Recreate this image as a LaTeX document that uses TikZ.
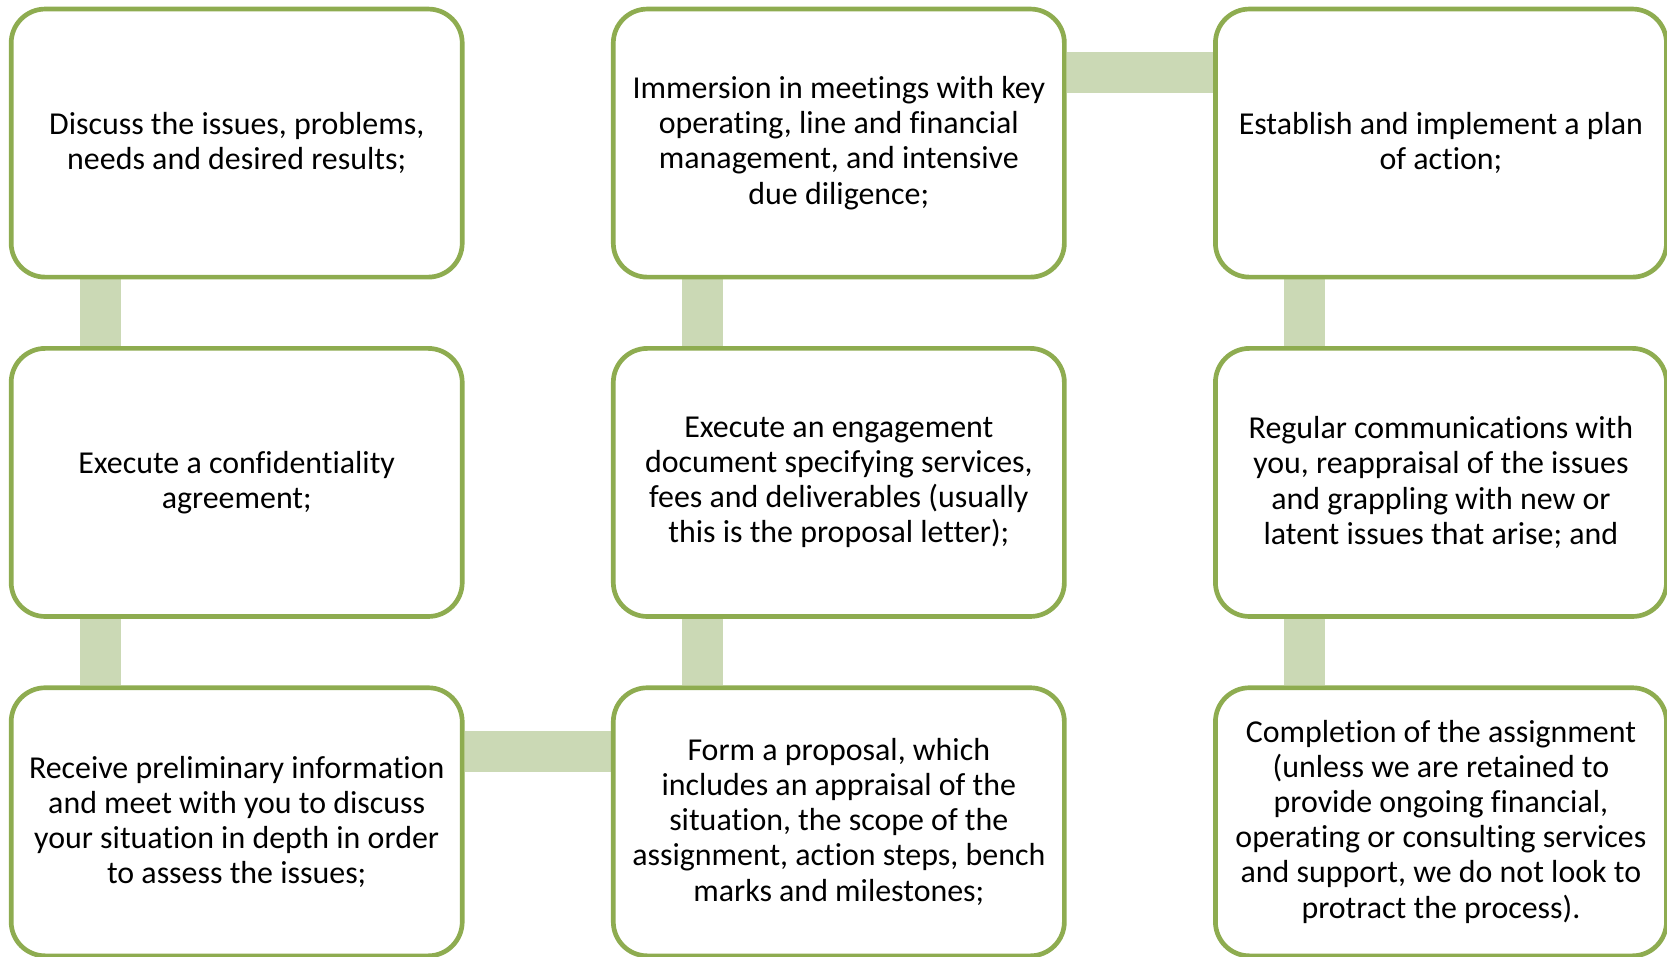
\documentclass[tikz,border=0pt]{standalone}
\usepackage{fontspec}
\setmainfont[Ligatures=NoCommon]{Carlito}
\usetikzlibrary{backgrounds,calc}
\definecolor{boxgreen}{HTML}{8EAC50}
\definecolor{barcol}{HTML}{CBD9B5}
\begin{document}
\begin{tikzpicture}[x=0.5pt,y=-0.5pt,
  stepbox/.style={draw=boxgreen, line width=2.2pt, rounded corners=16pt, fill=white,
    minimum width=212pt, minimum height=126pt, align=center, inner sep=0pt,
    font=\fontsize{15}{16.5}\selectfont},
  bar/.style={draw=barcol, line width=19pt}]
\useasboundingbox (0,0) rectangle (1567,899);
\node[stepbox] (n1) at (222.5,134.5) {Discuss the issues, problems,\\needs and desired results;};
\node[stepbox] (n2) at (788.5,134.5) {Immersion in meetings with key\\operating, line and financial\\management, and intensive\\due diligence;};
\node[stepbox] (n3) at (1354.5,134.5) {Establish and implement a plan\\of action;};
\node[stepbox] (n4) at (222.5,453.5) {Execute a confidentiality\\agreement;};
\node[stepbox] (n5) at (788.5,453.5) {Execute an engagement\\document specifying services,\\fees and deliverables (usually\\this is the proposal letter);};
\node[stepbox] (n6) at (1354.5,453.5) {Regular communications with\\you, reappraisal of the issues\\and grappling with new or\\latent issues that arise; and};
\node[stepbox] (n7) at (222.5,772.5) {Receive preliminary information\\and meet with you to discuss\\your situation in depth in order\\to assess the issues;};
\node[stepbox] (n8) at (788.5,772.5) {Form a proposal, which\\includes an appraisal of the\\situation, the scope of the\\assignment, action steps, bench\\marks and milestones;};
\node[stepbox] (n9) at (1354.5,772.5) {Completion of the assignment\\(unless we are retained to\\provide ongoing financial,\\operating or consulting services\\and support, we do not look to\\protract the process).};
\begin{scope}[on background layer]
  \draw[bar] ($(n1.south west)+(86,0)$) -- ($(n4.north west)+(86,0)$);
  \draw[bar] ($(n4.south west)+(86,0)$) -- ($(n7.north west)+(86,0)$);
  \draw[bar] ($(n7.north east)+(0,62)$) -- ($(n8.north west)+(0,62)$);
  \draw[bar] ($(n8.north west)+(86,0)$) -- ($(n5.south west)+(86,0)$);
  \draw[bar] ($(n5.north west)+(86,0)$) -- ($(n2.south west)+(86,0)$);
  \draw[bar] ($(n2.north east)+(0,62)$) -- ($(n3.north west)+(0,62)$);
  \draw[bar] ($(n3.south west)+(86,0)$) -- ($(n6.north west)+(86,0)$);
  \draw[bar] ($(n6.south west)+(86,0)$) -- ($(n9.north west)+(86,0)$);
\end{scope}
\end{tikzpicture}
\end{document}
